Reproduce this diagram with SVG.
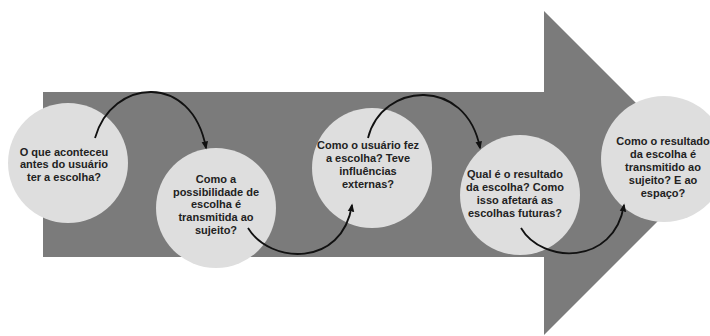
<svg xmlns="http://www.w3.org/2000/svg" width="710" height="336" viewBox="0 0 710 336">
<style>
.bg{fill:#ffffff}
.arrow{fill:#7b7b7b}
.node circle{fill:#dedede}
.node text{font-family:"Liberation Sans",Arial,sans-serif;font-size:11px;font-weight:bold;fill:#222222;text-anchor:middle}
.conn path{fill:none;stroke:#111111;stroke-width:1.8}
</style>
<defs>
<marker id="ah" viewBox="0 0 10 10" refX="8" refY="5" markerWidth="4.5" markerHeight="4.5" orient="auto" markerUnits="strokeWidth">
<path d="M0,1 L10,5 L0,9 Z" fill="#111111"/>
</marker>
</defs>
<rect class="bg" x="0" y="0" width="710" height="336"/>
<polygon class="arrow" points="43,92 544,92 544,11 706,173 544,335 544,257 43,257"/>
<g id="n1" class="node">
<circle cx="68" cy="163" r="60"/>
<text x="64" y="156">O que aconteceu</text>
<text x="64" y="168">antes do usuário</text>
<text x="64" y="181">ter a escolha?</text>
</g>
<g id="n2" class="node">
<circle cx="216" cy="208" r="60"/>
<text x="216" y="183">Como a</text>
<text x="216" y="196">possibilidade de</text>
<text x="216" y="208">escolha é</text>
<text x="216" y="221">transmitida ao</text>
<text x="216" y="234">sujeito?</text>
</g>
<g id="n3" class="node">
<circle cx="372" cy="168" r="60"/>
<text x="368" y="149">Como o usuário fez</text>
<text x="368" y="162">a escolha? Teve</text>
<text x="368" y="175">influências</text>
<text x="368" y="188">externas?</text>
</g>
<g id="n4" class="node">
<circle cx="520" cy="195" r="60"/>
<text x="515" y="178">Qual é o resultado</text>
<text x="515" y="191">da escolha? Como</text>
<text x="515" y="204">isso afetará as</text>
<text x="515" y="217">escolhas futuras?</text>
</g>
<g id="n5" class="node">
<circle cx="664" cy="159" r="63"/>
<text x="663" y="145">Como o resultado</text>
<text x="663" y="158">da escolha é</text>
<text x="663" y="171">transmitido ao</text>
<text x="663" y="184">sujeito? E ao</text>
<text x="663" y="197">espaço?</text>
</g>
<g id="connectors" class="conn">
<path d="M95,138 C112,78 192,72 206,148" marker-end="url(#ah)"/>
<path d="M248,228 C270,264 342,268 352,205" marker-end="url(#ah)"/>
<path d="M368,138 C382,82 466,76 480,148" marker-end="url(#ah)"/>
<path d="M521,228 C542,264 614,266 624,205" marker-end="url(#ah)"/>
</g>
</svg>
